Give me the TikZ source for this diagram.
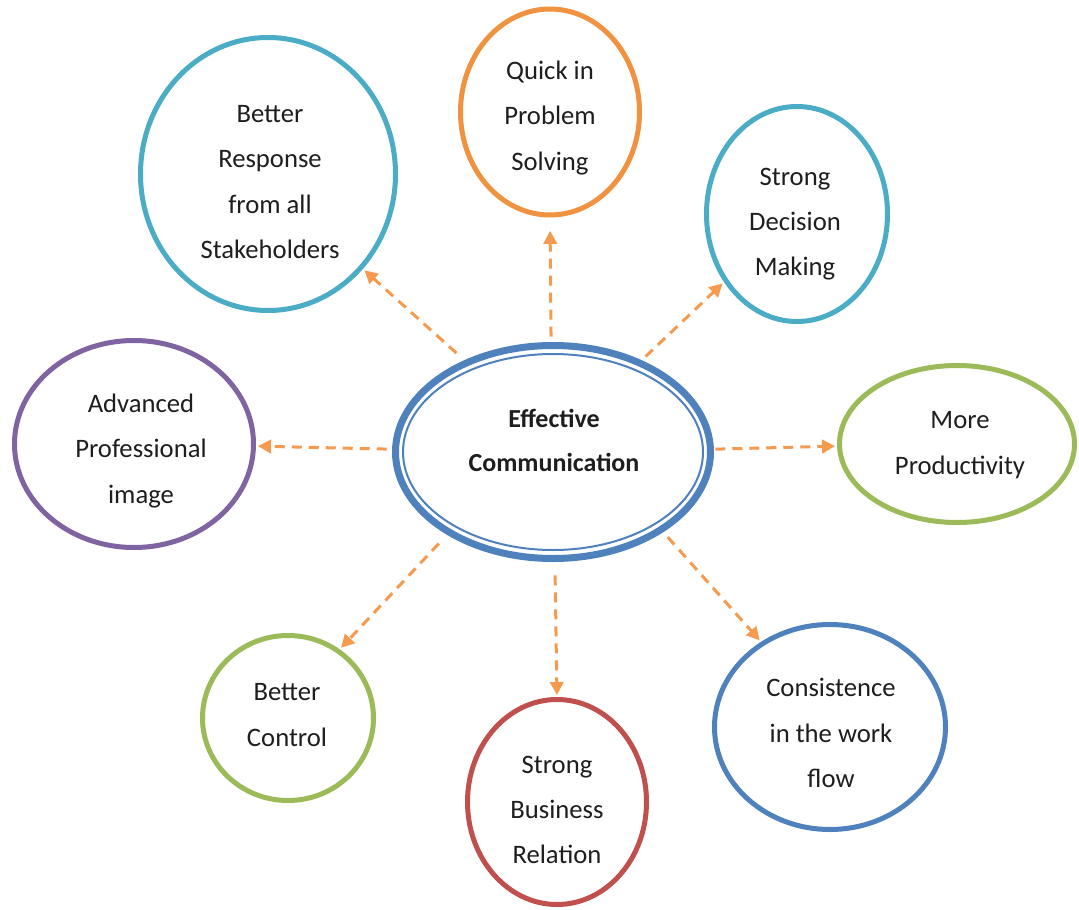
\documentclass[tikz,border=0pt]{standalone}
\usepackage{fontspec}
\setmainfont{Carlito}
\usetikzlibrary{shapes.geometric,arrows.meta}
\definecolor{cteal}{HTML}{4BACC6}
\definecolor{corangec}{HTML}{F0923F}
\definecolor{carrow}{HTML}{F59A4E}
\definecolor{cgreen}{HTML}{9BBB59}
\definecolor{cpurple}{HTML}{8064A2}
\definecolor{cred}{HTML}{C0504D}
\definecolor{cblue}{HTML}{4F81BD}
\definecolor{txt}{HTML}{1E1E1E}
\begin{document}
\begin{tikzpicture}[x=0.75pt,y=-0.75pt,
  bub/.style={ellipse,draw,line width=3.75pt,inner sep=0pt,fill=white},
  lbl/.style={align=center,inner sep=0pt,text=txt,font=\fontsize{20pt}{34pt}\selectfont},
  arr/.style={draw=carrow,line width=2.25pt,dash pattern=on 7.5pt off 5.25pt,
    -{Triangle[length=9.75pt,width=10pt]},shorten <=4pt,shorten >=1.5pt}]
\useasboundingbox[fill=white] (0,0) rectangle (1079,910);

% outer bubbles
\node[bub,draw=cteal,minimum width=191.25pt,minimum height=204.75pt] (b1) at (268,174) {};
\node[bub,draw=corangec,minimum width=134.25pt,minimum height=154.5pt] (q) at (550,112) {};
\node[bub,draw=cteal,minimum width=135.75pt,minimum height=161.25pt] (d) at (797,214) {};
\node[bub,draw=cpurple,minimum width=179.25pt,minimum height=155.25pt] (a) at (134,444) {};
\node[bub,draw=cgreen,minimum width=176.25pt,minimum height=117.75pt] (mp) at (957,444) {};
\node[bub,draw=cgreen,minimum width=128.25pt,minimum height=123.75pt] (bc) at (288,718) {};
\node[bub,draw=cred,minimum width=134.25pt,minimum height=153.75pt] (sb) at (557,802) {};
\node[bub,draw=cblue,minimum width=173.25pt,minimum height=153.75pt] (cw) at (830,727) {};

% centre bubble (thick-thin line)
\node[ellipse,draw=cblue,line width=5.25pt,inner sep=0pt,fill=white,
      minimum width=236.25pt,minimum height=159.75pt] (c) at (553,452) {};
\node[ellipse,draw=cblue,line width=1.5pt,inner sep=0pt,
      minimum width=225pt,minimum height=147pt] (cin) at (553,452) {};

% labels
\node[lbl] (t1) at (270,182) {Better\\Response\\from all\\Stakeholders};
\node[lbl] (t2) at (550,118) {Quick in\\Problem\\Solving};
\node[lbl] (t3) at (795,224) {Strong\\Decision\\Making};
\node[lbl] (t4) at (141,451) {Advanced\\Professional\\image};
\node[lbl] (t5) at (960,445) {More\\Productivity};
\node[lbl] (t6) at (287,715) {Better\\Control};
\node[lbl] (t7) at (557,810) {Strong\\Business\\Relation};
\node[lbl] (t8) at (831,733) {Consistence\\in the work\\flow};
\node[lbl,font=\bfseries\fontsize{19.5pt}{33pt}\selectfont] (tc) at (554,440) {Effective\\Communication};

% connectors
\draw[arr,shorten <=8pt] (c.134) -- (b1.-45);
\draw[arr,shorten >=10pt] (c.91) -- (q.-90);
\draw[arr] (c.46) -- (d.-137);
\draw[arr] (c.179) -- (a.-1);
\draw[arr,shorten <=1pt] (c.1) -- (mp.181);
\draw[arr,shorten <=9pt] (c.-142) -- (bc.53);
\draw[arr,shorten <=10pt] (c.-89) -- (sb.90);
\draw[arr,shorten <=5pt] (c.-36) -- (cw.129);
\end{tikzpicture}
\end{document}
